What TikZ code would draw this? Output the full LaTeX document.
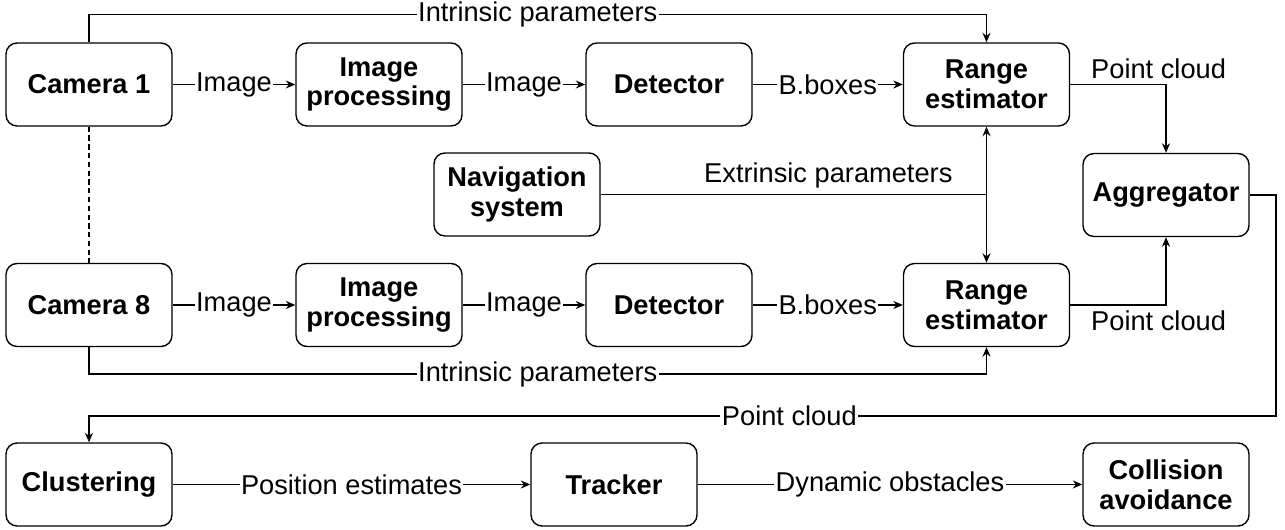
\documentclass[tikz,border=0pt]{standalone}
\usepackage{fontspec}
\setmainfont{Liberation Sans}
\usetikzlibrary{arrows.meta}

\begin{document}
\begin{tikzpicture}[x=0.02cm, y=-0.02cm, line width=0.8pt,
    >={Stealth[length=0.19cm, width=0.16cm]},
    font=\fontsize{15.5pt}{17pt}\selectfont,
    block/.style={draw, rounded corners=0.22cm, minimum width=3.32cm, minimum height=1.66cm,
        align=center, inner sep=0pt, font=\fontsize{15.5pt}{17pt}\selectfont\bfseries},
    lbl/.style={fill=white, inner sep=0.03cm}]
    \useasboundingbox (0,0) rectangle (1285,530);

    % Define blocks
    \node[block] (cam1) at (89,84.5) {Camera 1};
    \node[block] (proc1) at (379,84.5) {Image\\processing};
    \node[block] (det1) at (669,84.5) {Detector};
    \node[block] (range1) at (986.5,84.5) {Range\\estimator};
    \node[block] (nav) at (517,194.5) {Navigation\\system};
    \node[block] (agg) at (1166,195) {Aggregator};
    \node[block] (cam8) at (89,305) {Camera 8};
    \node[block] (proc8) at (379,305) {Image\\processing};
    \node[block] (det8) at (669,305) {Detector};
    \node[block] (range8) at (986.5,305) {Range\\estimator};
    \node[block] (clus) at (89,484.5) {Clustering};
    \node[block] (track) at (614,484.5) {Tracker};
    \node[block] (coll) at (1166,484.5) {Collision\\avoidance};

    % Camera chains
    \draw[->] (cam1) -- node[lbl] {Image} (proc1);
    \draw[->] (proc1) -- node[lbl] {Image} (det1);
    \draw[->] (det1) -- node[lbl] {B.boxes} (range1);
    \draw[->] (cam8) -- node[lbl] {Image} (proc8);
    \draw[->] (proc8) -- node[lbl] {Image} (det8);
    \draw[->] (det8) -- node[lbl] {B.boxes} (range8);
    \draw[line width=0.6pt, dash pattern=on 3pt off 2pt] (cam1) -- (cam8);

    % Intrinsic parameters
    \draw[->] (cam1.north) -- ++(0,-28) -| node[lbl, pos=0.25] {Intrinsic parameters} (range1.north);
    \draw[->] (cam8.south) -- ++(0,27) -| node[lbl, pos=0.25] {Intrinsic parameters} (range8.south);

    % Extrinsic parameters
    \draw[<->] (range1) -- (range8);
    \draw (nav.east) -- node[anchor=south, pos=0.59, inner sep=0.12cm] {Extrinsic parameters} (range1.south |- nav.east);

    % Point clouds
    \draw[->] (range1.east) -| node[anchor=south west, pos=0.08, inner sep=0.1cm] {Point cloud} (agg.north);
    \draw[->] (range8.east) -| node[anchor=north west, pos=0.08, inner sep=0.1cm] {Point cloud} (agg.south);
    \coordinate (turn) at (1276,416);
    \draw[->] (agg.east) -| (turn) -- node[lbl, pos=0.41] {Point cloud} (clus.north |- turn) -- (clus.north);

    % Output chain
    \draw[->] (clus) -- node[lbl] {Position estimates} (track);
    \draw[->] (track) -- node[lbl] {Dynamic obstacles} (coll);

\end{tikzpicture}
\end{document}
